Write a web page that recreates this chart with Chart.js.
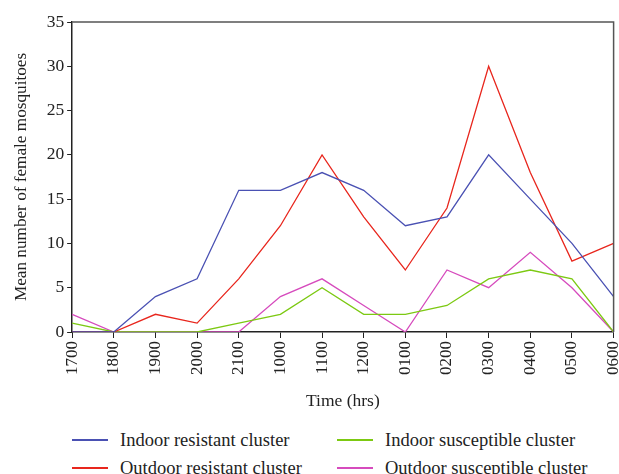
<!DOCTYPE html>
<html>
<head>
<meta charset="utf-8">
<script src="https://cdn.jsdelivr.net/npm/chart.js@4.4.1/dist/chart.umd.min.js"></script>
<style>
  body { margin: 0; background: #fff; font-family: "Liberation Serif", "DejaVu Serif", serif; }
  #wrap { position: relative; width: 619px; height: 474px; overflow: hidden; }
  #chart-box { position: absolute; left: 0; top: 0; width: 637px; height: 418px; }
  .legend-item { position: absolute; font-size: 18.5px; color: #222; white-space: nowrap; height: 22px; line-height: 22px; }
  .legend-item .swatch { position: absolute; left: 0; top: 10px; width: 36px; height: 2px; }
  .legend-item .txt { position: absolute; left: 48px; top: 0; }
</style>
</head>
<body>
<div id="wrap">
  <div id="chart-box"><canvas id="myChart"></canvas></div>
  <div id="legend"></div>
</div>
<script>
// data
const times = ["1700", "1800", "1900", "2000", "2100", "1000", "1100", "1200", "0100", "0200", "0300", "0400", "0500", "0600"];
const indoorResistant = [0, 0, 4, 6, 16, 16, 18, 16, 12, 13, 20, 15, 10, 4];
const outdoorResistant = [0, 0, 2, 1, 6, 12, 20, 13, 7, 14, 30, 18, 8, 10];
const indoorSusceptible = [1, 0, 0, 0, 1, 2, 5, 2, 2, 3, 6, 7, 6, 0];
const outdoorSusceptible = [2, 0, 0, 0, 0, 4, 6, 3, 0, 7, 5, 9, 5, 0];
const yTicks = [0, 5, 10, 15, 20, 25, 30, 35];

const series = [
    { label: "Indoor resistant cluster", data: indoorResistant, color: "#4a51b3", x: 72, y: 429 },
    { label: "Outdoor resistant cluster", data: outdoorResistant, color: "#e8261d", x: 72, y: 457 },
    { label: "Indoor susceptible cluster", data: indoorSusceptible, color: "#7cc912", x: 337, y: 429 },
    { label: "Outdoor susceptible cluster", data: outdoorSusceptible, color: "#d64bbd", x: 337, y: 457 }
];

// легенда в две колонки
const legendDiv = document.getElementById("legend");
series.forEach(s => {
    const item = document.createElement("div");
    item.className = "legend-item";
    item.style.left = s.x + "px";
    item.style.top = s.y + "px";
    item.innerHTML = `<div class="swatch" style="background:${s.color}"></div><div class="txt">${s.label}</div>`;
    legendDiv.appendChild(item);
});

// рамка сверху и справа
const boxPlugin = {
    id: "boxPlugin",
    afterDraw(chart) {
        const { ctx, chartArea } = chart;
        ctx.save();
        ctx.strokeStyle = "#555";
        ctx.lineWidth = 1.5;
        ctx.beginPath();
        ctx.moveTo(chartArea.left, chartArea.top);
        ctx.lineTo(chartArea.right, chartArea.top);
        ctx.lineTo(chartArea.right, chartArea.bottom);
        ctx.stroke();
        ctx.restore();
    }
};

const fontFamily = '"Liberation Serif", "DejaVu Serif", serif';

new Chart(document.getElementById("myChart"), {
    type: "line",
    data: {
        labels: times,
        datasets: series.map(s => ({
            label: s.label,
            data: s.data,
            borderColor: s.color,
            backgroundColor: s.color,
            borderWidth: 1.3,
            pointRadius: 0,
            tension: 0,
            fill: false
        }))
    },
    options: {
        responsive: true,
        maintainAspectRatio: false,
        animation: false,
        layout: { padding: { top: 22, right: 0, left: 11, bottom: 6 } },
        plugins: {
            legend: { display: false },
            tooltip: { enabled: false }
        },
        scales: {
            x: {
                offset: false,
                grid: { display: true, drawOnChartArea: false, drawTicks: true, tickLength: 6, color: "#222" },
                border: { display: true, color: "#222", width: 1.5 },
                ticks: {
                    color: "#222",
                    font: { family: fontFamily, size: 17 },
                    maxRotation: 90, minRotation: 90,
                    autoSkip: false,
                    padding: 3
                },
                title: {
                    display: true,
                    text: "Time (hrs)",
                    color: "#222",
                    font: { family: fontFamily, size: 17.5 },
                    padding: { top: 13, bottom: 0 }
                }
            },
            y: {
                min: 0, max: 35,
                afterBuildTicks: axis => { axis.ticks = yTicks.map(v => ({ value: v })); },
                grid: { display: true, drawOnChartArea: false, drawTicks: true, tickLength: 5, color: "#222" },
                border: { display: true, color: "#222", width: 1.5 },
                ticks: {
                    color: "#222",
                    font: { family: fontFamily, size: 17.5 },
                    padding: 3
                },
                title: {
                    display: true,
                    text: "Mean number of female mosquitoes",
                    color: "#222",
                    font: { family: fontFamily, size: 17.2 },
                    padding: { top: 0, bottom: 12 }
                }
            }
        }
    },
    plugins: [boxPlugin]
});
</script>
</body>
</html>
